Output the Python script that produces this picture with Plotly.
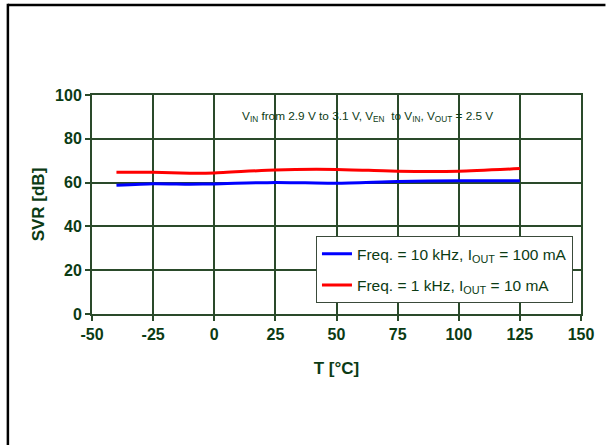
import plotly.graph_objects as go

temps = [-40, -25, -10, 0, 25, 50, 75, 100, 125]
svr_10k = [58.8, 59.5, 59.3, 59.4, 60.1, 59.7, 60.5, 60.8, 60.8]
svr_1k = [64.7, 64.7, 64.3, 64.4, 65.8, 66.0, 65.2, 65.2, 66.4]
name_10k = "Freq. = 10 kHz, I<sub>OUT</sub> = 100 mA"
name_1k = "Freq. = 1 kHz, I<sub>OUT</sub> = 10 mA"
x_ticks = [-50, -25, 0, 25, 50, 75, 100, 125, 150]
y_ticks = [0, 20, 40, 60, 80, 100]
note = "V<sub>IN</sub> from 2.9 V to 3.1 V, V<sub>EN</sub>  to V<sub>IN</sub>, V<sub>OUT</sub> = 2.5 V"

DG = "#0b3b14"
GRID = "#2a4a2a"
FONT = "Liberation Sans, Arial, sans-serif"

fig = go.Figure()
fig.add_trace(go.Scatter(x=temps, y=svr_10k, mode="lines", name=name_10k, legendgroup="a",
                         line=dict(color="#0000ff", width=3, shape="spline", smoothing=0.6)))
fig.add_trace(go.Scatter(x=temps, y=svr_1k, mode="lines", name=name_1k, legendgroup="b",
                         line=dict(color="#ff0000", width=3, shape="spline", smoothing=0.6)))

axis_common = dict(showgrid=True, gridcolor=GRID, gridwidth=1.5,
                   showline=True, linecolor=GRID, linewidth=2, mirror=True,
                   ticks="outside", ticklen=5, tickcolor=GRID, tickwidth=1.5,
                   zeroline=False,
                   tickfont=dict(family=FONT, size=16, color=DG, weight="bold"))

fig.update_xaxes(range=[-50, 150], tickvals=x_ticks, ticktext=[str(v) for v in x_ticks],
                 title=dict(text="<b>T [°C]</b>", font=dict(family=FONT, size=17, color=DG), standoff=20),
                 **axis_common)
fig.update_yaxes(range=[0, 100], tickvals=y_ticks, ticktext=[str(v) for v in y_ticks],
                 title=dict(text="<b>SVR [dB]</b>", font=dict(family=FONT, size=17, color=DG), standoff=6),
                 **axis_common)

fig.add_annotation(x=0.5636, y=0.904, xref="paper", yref="paper", text=note, showarrow=False,
                   font=dict(family=FONT, size=11.8, color=DG), xanchor="center", yanchor="middle")

# outer frame (top and left edges visible)
fig.add_shape(type="line", xref="paper", yref="paper", x0=-0.172, x1=1.05, y0=1.411, y1=1.411,
              line=dict(color="black", width=2.5))
fig.add_shape(type="line", xref="paper", yref="paper", x0=-0.172, x1=-0.172, y0=1.417, y1=-0.61,
              line=dict(color="black", width=2.5))

fig.update_layout(
    width=606, height=445,
    margin=dict(l=92, r=19, t=95, b=131),
    paper_bgcolor="white", plot_bgcolor="white",
    showlegend=True,
    legend=dict(x=0.458, y=0.355, xanchor="left", yanchor="top",
                bgcolor="white", bordercolor="#3a4a3a", borderwidth=1,
                font=dict(family=FONT, size=15.5, color=DG),
                itemwidth=30, tracegroupgap=8, traceorder="grouped"),
)

fig.write_html("out.html", config={"displayModeBar": False, "responsive": False},
               post_script="document.body.style.margin='0';document.body.style.overflow='hidden';")
